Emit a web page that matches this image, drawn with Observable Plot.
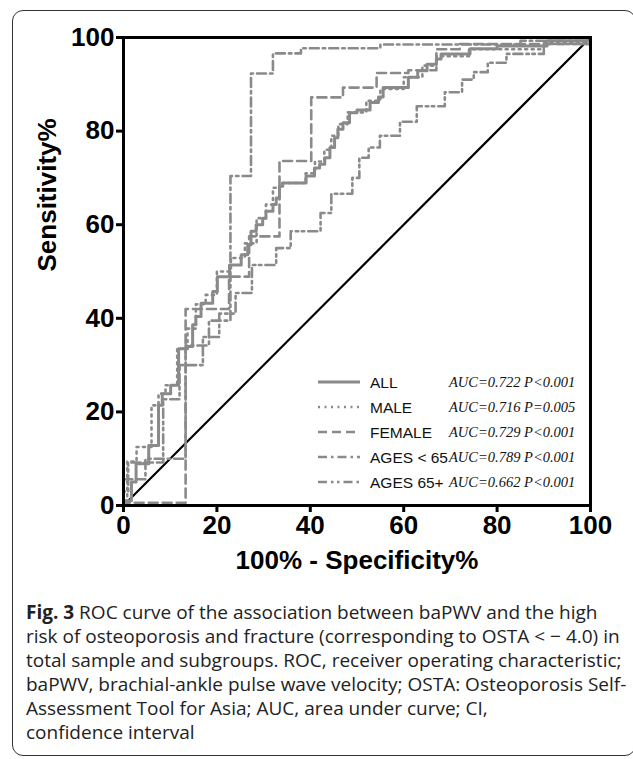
<!DOCTYPE html>
<html><head><meta charset="utf-8">
<script src="https://cdn.jsdelivr.net/npm/d3@7"></script>
<script src="https://cdn.jsdelivr.net/npm/@observablehq/plot@0.6"></script>
<style>
html,body{margin:0;padding:0;background:#fff;}
#wrap{position:relative;width:633px;height:759px;overflow:hidden;background:#fff;}
#border{position:absolute;left:12px;top:10px;width:624px;height:746px;border:1.5px solid #333;border-radius:11px;box-sizing:border-box;}
#chart{position:absolute;left:0;top:0;}
#cap{position:absolute;left:26px;top:600px;font-family:"Open Sans",sans-serif;font-size:19px;line-height:24px;color:#222;white-space:nowrap;}
#chart g[aria-label="x-axis tick"] path, #chart g[aria-label="y-axis tick"] path{stroke-width:3px;}
</style></head><body>
<div id="wrap"><div id="border"></div><div id="chart"></div><div id="cap"></div></div>
<script>
// ---- data (step knots: [100% - specificity, sensitivity]) ----
const seriesNames = ["ALL", "MALE", "FEMALE", "AGES < 65", "AGES 65+"];
const aucText = ["AUC=0.722 P<0.001", "AUC=0.716 P=0.005", "AUC=0.729 P<0.001", "AUC=0.789 P<0.001", "AUC=0.662 P<0.001"];
const xTicks = [0, 20, 40, 60, 80, 100];
const yTicks = [0, 20, 40, 60, 80, 100];
const xLabel = "100% - Specificity%";
const yLabel = "Sensitivity%";
const diag = [[0, 0], [100, 100]];

const rocAll = [[0,0],[0,1],[1.7,5],[2.7,8.9],[5.4,12.8],[7.5,21.4],[8.3,23.9],[10.1,25.7],[11.8,33.5],[13.7,34],[14.8,38.6],[15.5,40.4],[16.6,43.2],[19.1,45.7],[20.1,48.9],[22.7,51.4],[25.2,53.6],[26.6,55.7],[27.3,58.6],[28.4,60],[29.8,61.4],[30.5,62.9],[32,64.3],[32.7,65.7],[33.4,68.2],[34.1,68.9],[39.1,70.4],[40.9,72.1],[42,72.9],[43.1,74.3],[44.2,76.5],[45.2,78.6],[45.9,80.4],[47,81.8],[48.4,83.9],[50,84.5],[52.8,86.1],[54.6,87.3],[55.6,89.3],[61,91.5],[63,92.9],[65,94.3],[67,95.4],[68,96.5],[74.2,97.6],[80,98.2],[90.7,99.3],[99.3,100],[100,100]];
const rocMale = [[0,0],[0,1],[0.8,9.4],[2.8,12.5],[6,21.4],[7.5,23.9],[9,25.7],[11.5,33.5],[13.7,37.8],[15.5,43],[17.6,45],[20,50],[23,52.9],[26,56],[28.5,61.4],[30.5,64.3],[32,67.9],[33.5,68.9],[39,71],[41,73.5],[43,76],[44.5,79],[46,81.5],[48,84],[52,86.5],[55,89],[60,91.5],[64,94],[67,96],[74,97.5],[90,99],[100,100]];
const rocFemale = [[0,0],[0,0.6],[13.3,42],[22.6,48.9],[26.9,57.5],[33.4,73.6],[40.2,87.2],[47,89.3],[54.2,92.4],[61,93],[67,97.5],[72,98.6],[100,100]];
const rocYoung = [[0,0],[0,5.6],[4.7,10],[13.3,34.2],[18.3,39.5],[22.9,70.4],[27.3,92.3],[32,96.6],[38,97.7],[55,98.5],[85,99.3],[100,100]];
const rocOld = [[0,0],[0,3],[1,9.2],[8.5,22.7],[12,30],[17,36],[20.5,41],[24,45.4],[27.5,51.4],[32.7,55],[35.8,58.6],[42.2,62.5],[44.5,66.6],[49,70],[50.5,74.3],[52.5,76.5],[54.9,79],[59.2,82],[62.8,85.3],[68.8,88.3],[72.5,91],[75,92.6],[78,94.6],[82,96.5],[90,98.6],[100,100]];

// ---- styles ----
const curveData = [rocAll, rocMale, rocFemale, rocYoung, rocOld];
const grey = "#8a8a8a";
const dashes = [null, "2,4.5", "9,5", "9,4,2.5,4", "9,4,2.5,3.5,2.5,4"];
const widths = [3, 2.6, 2.6, 2.6, 2.6];

const marks = [
  Plot.line(diag, {x: d => d[0], y: d => d[1], stroke: "#000", strokeWidth: 2.2})
];
curveData.forEach((data, i) => {
  marks.push(Plot.line(data, {
    x: d => d[0], y: d => d[1], curve: "step-after",
    stroke: grey, strokeWidth: widths[i],
    strokeDasharray: dashes[i] || undefined
  }));
});
marks.push(
  Plot.frame({stroke: "#000", strokeWidth: 3}),
  Plot.axisX({ticks: xTicks, tickSize: 7, tickPadding: 3, label: null, fontSize: 26, fontWeight: "bold", strokeWidth: 3, tickFormat: d => String(d)}),
  Plot.axisY({ticks: yTicks, tickSize: 7, tickPadding: 2, label: null, fontSize: 26, fontWeight: "bold", strokeWidth: 3, tickFormat: d => String(d)}),
  Plot.text([yLabel], {text: d => d, frameAnchor: "left", dx: -76, rotate: -90, fontSize: 26, fontWeight: "bold", fill: "#000"}),
  Plot.text([xLabel], {text: d => d, frameAnchor: "bottom", dy: 63, fontSize: 26, fontWeight: "bold", fill: "#000"})
);

const chart = Plot.plot({
  width: 633, height: 590,
  marginLeft: 123, marginRight: 43, marginTop: 37, marginBottom: 85,
  x: {domain: [0, 100]},
  y: {domain: [0, 100]},
  style: {fontFamily: "'Liberation Sans', Arial, sans-serif", background: "transparent", color: "#000", overflow: "visible"},
  marks
});
document.getElementById("chart").appendChild(chart);

// ---- legend inside plot ----
const svg = d3.select(chart);
const lg = svg.append("g").attr("class", "legend").attr("text-anchor", "start");
seriesNames.forEach((name, i) => {
  const y = 382 + 25 * i;
  const ln = lg.append("line").attr("x1", 318).attr("x2", 360).attr("y1", y).attr("y2", y)
    .attr("stroke", grey).attr("stroke-width", widths[i]);
  if (dashes[i]) ln.attr("stroke-dasharray", dashes[i]);
  lg.append("text").attr("x", 370).attr("y", y).attr("dy", "0.36em").attr("text-anchor", "start")
    .attr("font-family", "'Liberation Sans', Arial, sans-serif").attr("font-size", 15.5)
    .attr("font-weight", "normal").attr("fill", "#111").text(name);
  lg.append("text").attr("x", 449).attr("y", y).attr("dy", "0.36em").attr("text-anchor", "start")
    .attr("font-family", "'Liberation Serif', 'Times New Roman', serif").attr("font-size", 14.5)
    .attr("font-style", "italic").attr("font-weight", "normal").attr("fill", "#111").text(aucText[i]);
});

// ---- caption ----
const captionLines = [
  "ROC curve of the association between baPWV and the high",
  "risk of osteoporosis and fracture (corresponding to OSTA < \u2212 4.0) in",
  "total sample and subgroups. ROC, receiver operating characteristic;",
  "baPWV, brachial-ankle pulse wave velocity; OSTA: Osteoporosis Self-",
  "Assessment Tool for Asia; AUC, area under curve; CI,",
  "confidence interval"
];
const cap = d3.select("#cap");
captionLines.forEach((t, i) => {
  const div = cap.append("div");
  if (i === 0) { div.append("b").text("Fig. 3"); div.append("span").text(" " + t); }
  else div.text(t);
});
</script>
</body></html>
